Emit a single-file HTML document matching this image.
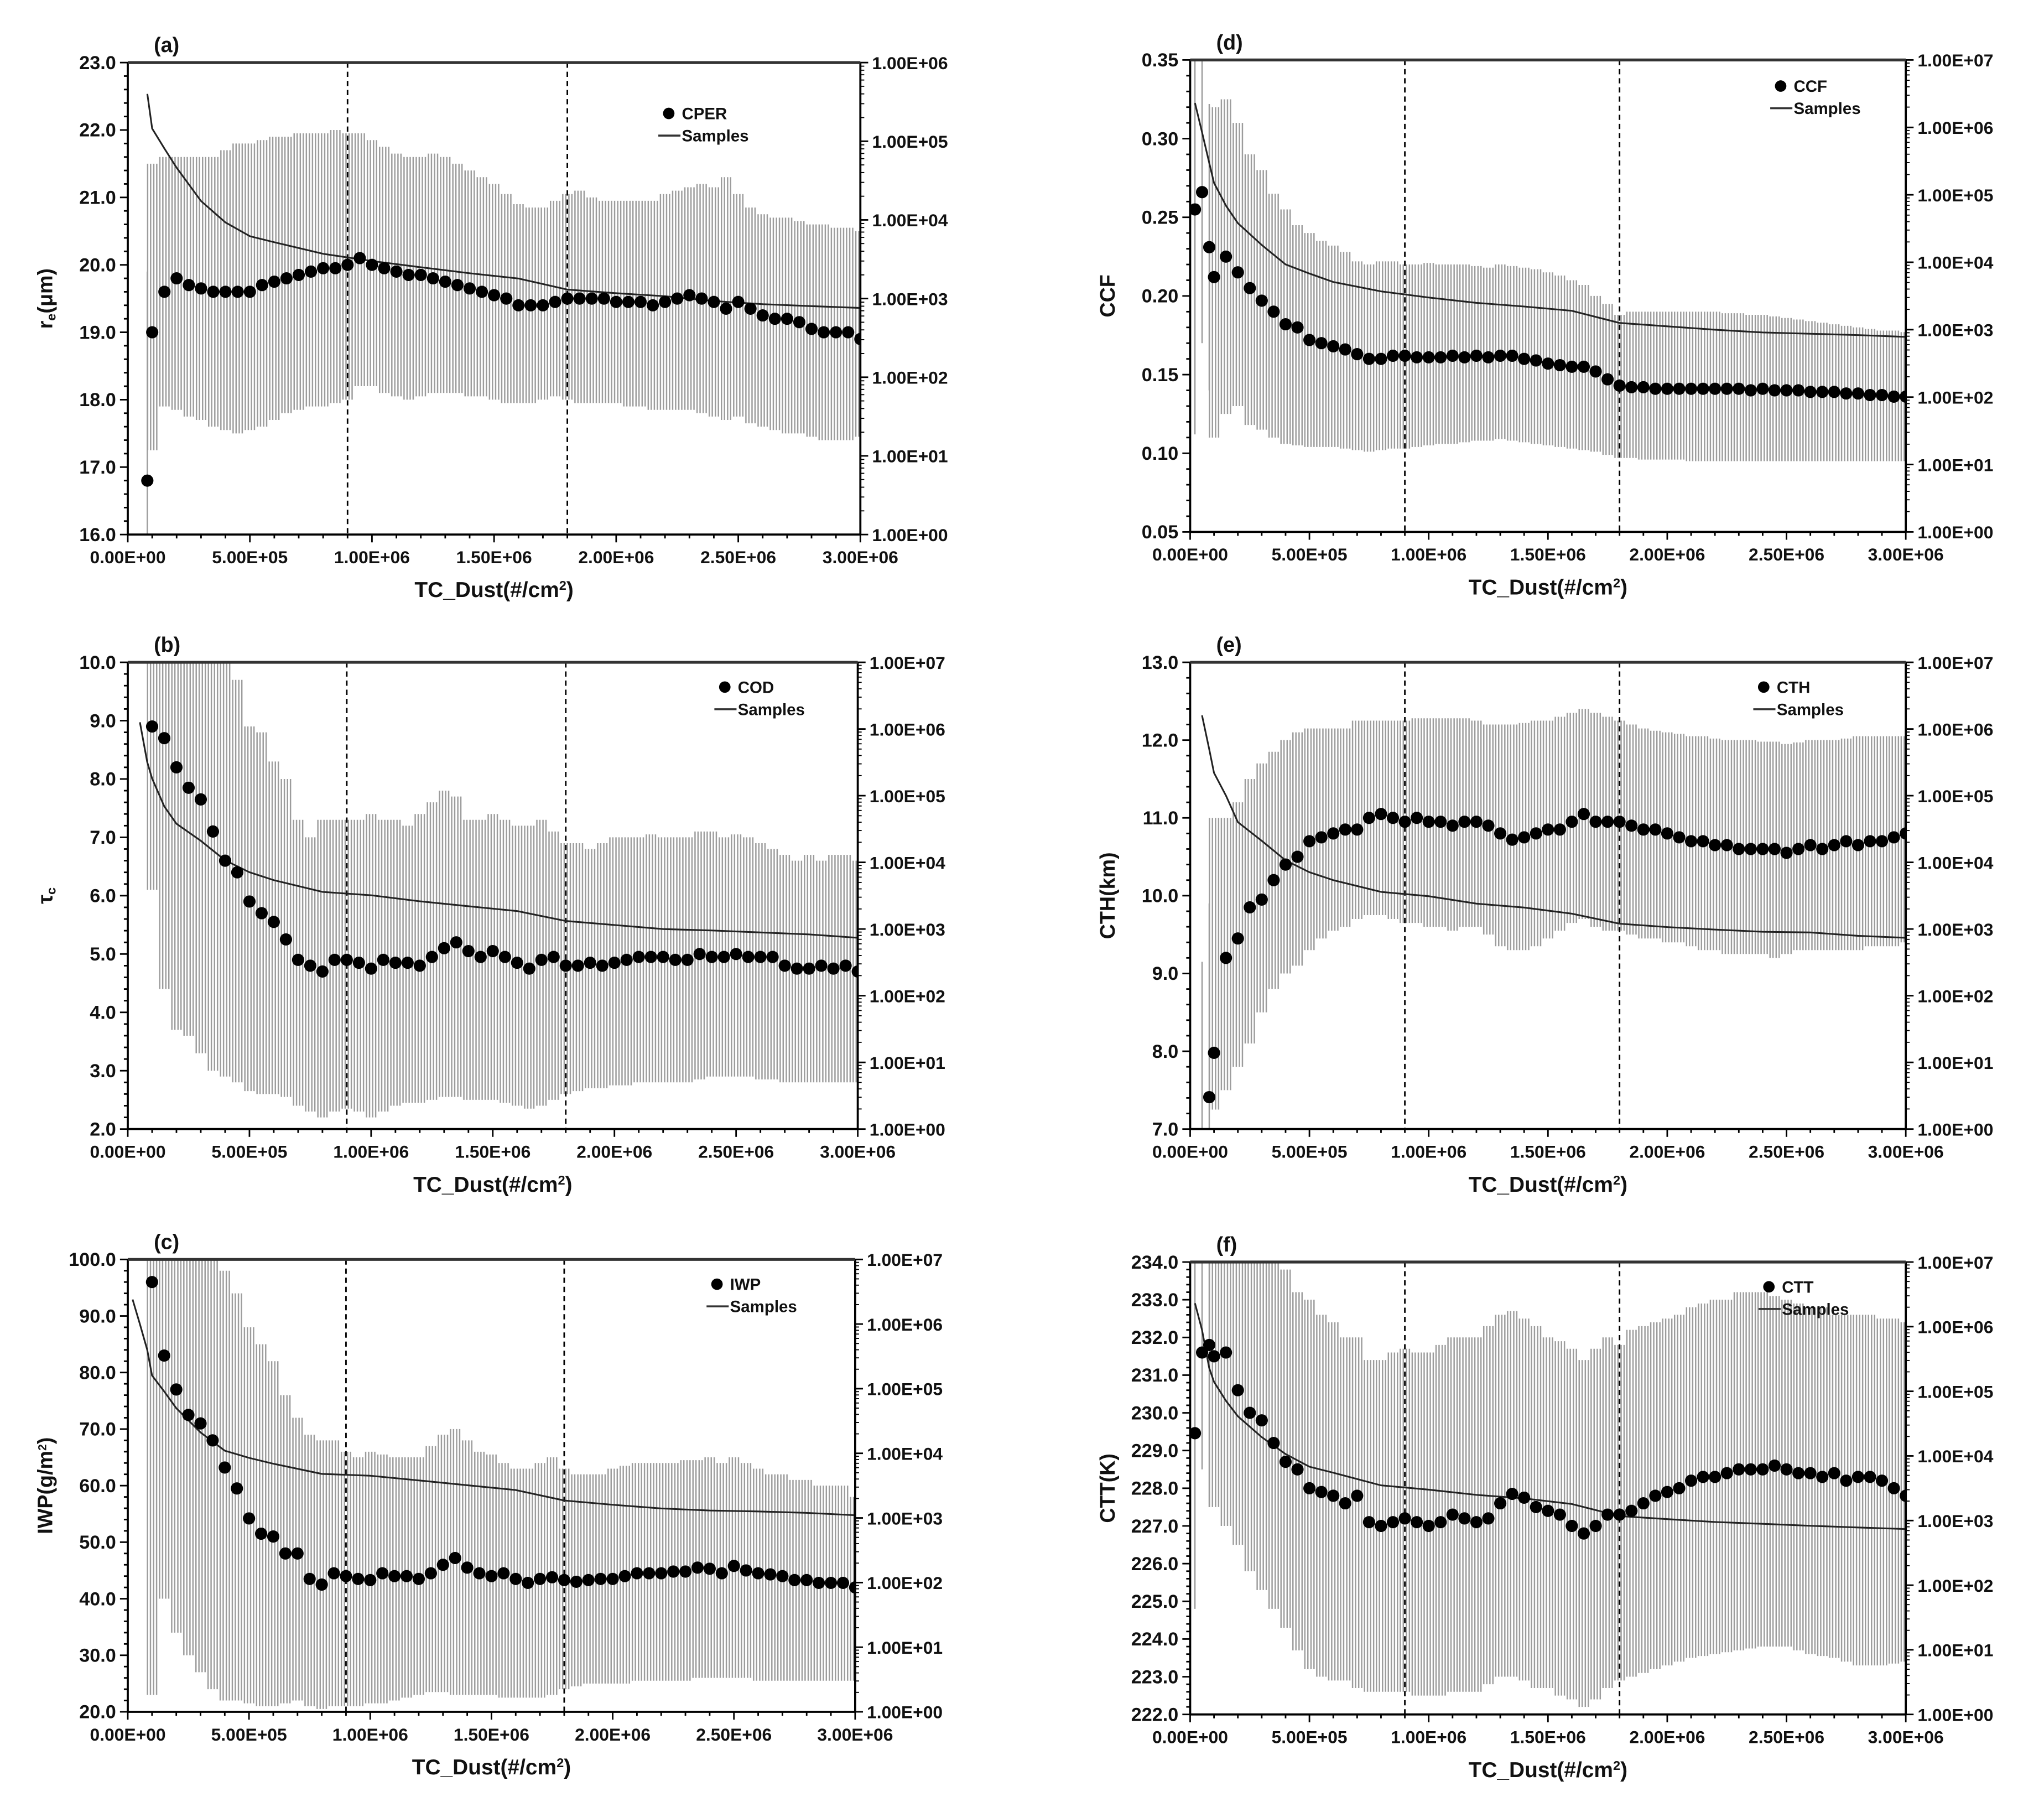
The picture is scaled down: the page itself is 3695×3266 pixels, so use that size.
<!DOCTYPE html>
<html><head><meta charset="utf-8"><title>TC_Dust cloud property panels</title>
<style>
html,body{margin:0;padding:0;background:#fff;}
svg{display:block;font-family:"Liberation Sans",Arial,sans-serif;}
</style></head>
<body>
<svg id="fig" xmlns="http://www.w3.org/2000/svg" width="3695" height="3266" viewBox="0 0 1568 1386">
<rect x="0" y="0" width="1568" height="1386" fill="#fff"/>
</svg>
<script>
// Shared x categories (TC_Dust, in units of 1e6 #/cm2)
const X = [0.02,0.05,0.08,
0.10,0.15,0.20,0.25,0.30,0.35,0.40,0.45,0.50,0.55,
0.60,0.65,0.70,0.75,0.80,0.85,0.90,0.95,1.00,1.05,
1.10,1.15,1.20,1.25,1.30,1.35,1.40,1.45,1.50,1.55,
1.60,1.65,1.70,1.75,1.80,1.85,1.90,1.95,2.00,2.05,
2.10,2.15,2.20,2.25,2.30,2.35,2.40,2.45,2.50,2.55,
2.60,2.65,2.70,2.75,2.80,2.85,2.90,2.95,3.00];
const SX = [0.02,0.05,0.08,0.1,0.15,0.2,0.3,0.4,0.5,0.6,0.8,1.0,1.2,1.4,1.6,1.8,2.0,2.2,2.4,2.6,2.8,3.0];
const xTickLabels = ["0.00E+00","5.00E+05","1.00E+06","1.50E+06","2.00E+06","2.50E+06","3.00E+06"];
const xTickValues = [0,0.5,1.0,1.5,2.0,2.5,3.0];
const dashedX = [0.9,1.8];

// (a) CPER
const cperMean = [null,null,16.8,
19.0,19.6,19.8,19.7,19.65,19.6,19.6,19.6,19.6,19.7,
19.75,19.8,19.85,19.9,19.95,19.95,20.0,20.1,20.0,19.95,
19.9,19.85,19.85,19.8,19.75,19.7,19.65,19.6,19.55,19.5,
19.4,19.4,19.4,19.45,19.5,19.5,19.5,19.5,19.45,19.45,
19.45,19.4,19.45,19.5,19.55,19.5,19.45,19.35,19.45,19.35,
19.25,19.2,19.2,19.15,19.05,19.0,19.0,19.0,18.9];
const cperHi = [null,null,19.9,
21.5,21.6,21.6,21.6,21.6,21.6,21.7,21.8,21.8,21.85,
21.9,21.9,21.95,21.95,21.95,22.0,21.95,21.95,21.85,21.75,
21.65,21.6,21.6,21.65,21.6,21.5,21.4,21.3,21.2,21.05,
20.9,20.85,20.85,20.95,21.05,21.1,21.0,20.95,20.95,20.95,
20.95,20.95,21.05,21.1,21.15,21.2,21.15,21.3,21.05,20.85,
20.75,20.7,20.7,20.65,20.6,20.6,20.55,20.55,20.5];
const cperLo = [null,null,16.0,
17.25,17.9,17.85,17.75,17.7,17.6,17.55,17.5,17.55,17.6,
17.7,17.8,17.85,17.9,17.9,17.95,18.0,18.2,18.2,18.1,
18.05,18.0,18.05,18.1,18.1,18.1,18.05,18.05,18.0,17.95,
17.95,17.95,18.0,18.05,18.0,17.95,17.95,17.95,17.95,17.9,
17.9,17.85,17.85,17.85,17.85,17.8,17.75,17.7,17.75,17.65,
17.6,17.55,17.5,17.5,17.45,17.4,17.4,17.4,17.45];
const cperSamples = [null,null,4e5,1.45e5,8.1e4,4.6e4,1.74e4,9.3e3,6.2e3,5.2e3,3.7e3,3e3,2.5e3,2.1e3,1.8e3,1.3e3,1.17e3,1.07e3,930,850,800,760];

// (b) COD
const codMean = [null,null,null,
8.9,8.7,8.2,7.85,7.65,7.1,6.6,6.4,5.9,5.7,
5.55,5.25,4.9,4.8,4.7,4.9,4.9,4.85,4.75,4.9,
4.85,4.85,4.8,4.95,5.1,5.2,5.05,4.95,5.05,4.95,
4.85,4.75,4.9,4.95,4.8,4.8,4.85,4.8,4.85,4.9,
4.95,4.95,4.95,4.9,4.9,5.0,4.95,4.95,5.0,4.95,
4.95,4.95,4.8,4.75,4.75,4.8,4.75,4.8,4.7];
const codHi = [null,null,null,
11,11,11,11,11,11,10,9.7,8.9,8.8,
8.3,8.0,7.3,7.0,7.3,7.3,7.3,7.3,7.4,7.3,
7.3,7.2,7.4,7.6,7.8,7.7,7.3,7.3,7.4,7.3,
7.2,7.2,7.3,7.1,6.9,6.9,6.8,6.9,7.0,7.0,
7.0,7.05,7.0,7.0,7.0,7.1,7.1,7.0,7.05,7.0,
6.9,6.8,6.7,6.6,6.7,6.6,6.7,6.7,6.6];
const codLo = [null,null,null,
6.1,4.4,3.7,3.6,3.3,3.0,2.9,2.8,2.65,2.6,
2.6,2.55,2.4,2.3,2.2,2.3,2.35,2.3,2.2,2.3,
2.4,2.45,2.45,2.5,2.55,2.55,2.5,2.5,2.5,2.45,
2.4,2.35,2.4,2.5,2.6,2.65,2.7,2.7,2.75,2.75,
2.8,2.8,2.8,2.8,2.8,2.85,2.9,2.9,2.9,2.9,
2.85,2.85,2.8,2.8,2.8,2.8,2.8,2.8,2.8];
const codSamples = [null,1.26e6,3.2e5,1.8e5,6.9e4,3.8e4,2.1e4,1.07e4,7.1e3,5.4e3,3.6e3,3.2e3,2.6e3,2.2e3,1.86e3,1.32e3,1.15e3,1e3,950,890,830,740];

// (c) IWP
const iwpMean = [null,null,null,
96,83,77,72.5,71,68,63.2,59.5,54.2,51.5,
51,48,48,43.5,42.5,44.5,44,43.5,43.3,44.5,
44,44,43.5,44.5,46,47.2,45.5,44.5,44,44.5,
43.5,42.8,43.5,43.8,43.3,43,43.3,43.5,43.5,44,
44.5,44.5,44.5,44.8,44.8,45.5,45.3,44.5,45.8,45,
44.5,44.3,44,43.3,43.3,42.8,42.8,42.8,42];
const iwpHi = [null,null,null,
105,105,105,105,105,100,98,94,88,85,
82,76,72,69,68,68,66,65,66,65.5,
65,65,65,67,69,70,68,66,65.5,64,
63,63,64,65,63,62,62,62,63,63.5,
64,64,64,64,64.5,64.5,65,64,65,64,
63,62,62,61,61,60,60,60,58];
const iwpLo = [null,null,null,
23,40,34,30,27,24,22,22,21.5,21,
21,21.5,22,21,20.5,21,21,21,21.5,21.5,
22,22.5,23,23.5,23.5,23,23,23,23,22.5,
22.5,22.5,22.5,23,24,24.5,25,25,25,25,
25.5,25.5,25.5,25.5,25.5,26,26,26,26,26,
25.5,25.5,25.5,25.5,25.5,25.5,25.5,25.5,25.5];
const iwpSamples = [2.4e6,1e6,4e5,1.6e5,9.1e4,5e4,2.1e4,1.1e4,8.5e3,6.9e3,4.8e3,4.5e3,3.8e3,3.2e3,2.7e3,1.86e3,1.6e3,1.4e3,1.3e3,1.26e3,1.2e3,1.1e3];

// (d) CCF
const ccfMean = [0.255,0.266,0.231,
0.212,0.225,0.215,0.205,0.197,0.19,0.182,0.18,0.172,0.17,
0.168,0.166,0.163,0.16,0.16,0.162,0.162,0.161,0.161,0.161,
0.162,0.161,0.162,0.161,0.162,0.162,0.16,0.159,0.157,0.156,
0.155,0.155,0.152,0.147,0.143,0.142,0.142,0.141,0.141,0.141,
0.141,0.141,0.141,0.141,0.141,0.14,0.141,0.14,0.14,0.14,
0.139,0.139,0.139,0.138,0.138,0.137,0.137,0.136,0.136];
const ccfHi = [0.36,0.36,0.322,
0.32,0.325,0.31,0.29,0.28,0.265,0.255,0.245,0.24,0.235,
0.232,0.228,0.222,0.22,0.222,0.222,0.22,0.22,0.221,0.22,
0.22,0.22,0.219,0.218,0.22,0.219,0.218,0.217,0.215,0.213,
0.21,0.207,0.2,0.195,0.188,0.19,0.19,0.19,0.19,0.19,
0.19,0.19,0.19,0.189,0.189,0.188,0.188,0.187,0.186,0.185,
0.184,0.183,0.182,0.181,0.18,0.179,0.178,0.178,0.177];
const ccfLo = [0.112,0.17,0.14,
0.11,0.125,0.13,0.118,0.115,0.11,0.106,0.105,0.104,0.104,
0.104,0.103,0.102,0.101,0.102,0.103,0.103,0.104,0.105,0.106,
0.106,0.107,0.108,0.108,0.109,0.108,0.107,0.106,0.105,0.104,
0.103,0.102,0.101,0.099,0.097,0.097,0.096,0.096,0.096,0.096,
0.095,0.095,0.095,0.095,0.095,0.095,0.095,0.095,0.095,0.095,
0.095,0.095,0.095,0.095,0.095,0.095,0.095,0.095,0.095];
const ccfSamples = [2.3e6,8.5e5,3e5,1.5e5,6.9e4,3.8e4,1.8e4,9.3e3,6.8e3,5.1e3,3.7e3,3e3,2.5e3,2.2e3,1.9e3,1.26e3,1.12e3,1e3,910,870,830,780];

// (e) CTH
const cthMean = [null,null,7.41,
7.98,9.2,9.45,9.85,9.95,10.2,10.4,10.5,10.7,10.75,
10.8,10.85,10.85,11.0,11.05,11.0,10.95,11.0,10.95,10.95,
10.9,10.95,10.95,10.9,10.8,10.72,10.75,10.8,10.85,10.85,
10.95,11.05,10.95,10.95,10.95,10.9,10.85,10.85,10.8,10.75,
10.7,10.7,10.65,10.65,10.6,10.6,10.6,10.6,10.55,10.6,
10.65,10.6,10.65,10.7,10.65,10.7,10.7,10.75,10.8];
const cthHi = [null,9.15,9.9,
11.0,11.0,11.2,11.5,11.7,11.85,12.0,12.1,12.15,12.15,
12.15,12.15,12.25,12.25,12.25,12.25,12.25,12.28,12.28,12.28,
12.28,12.28,12.25,12.2,12.2,12.2,12.22,12.25,12.25,12.3,
12.35,12.4,12.35,12.3,12.25,12.2,12.15,12.12,12.1,12.08,
12.05,12.05,12.02,12.0,12.0,12.0,11.98,11.98,11.95,11.97,
12.0,12.0,12.0,12.02,12.05,12.05,12.05,12.05,12.05];
const cthLo = [null,6.8,6.8,
7.25,7.5,7.8,8.1,8.5,8.8,9.0,9.1,9.3,9.45,
9.55,9.6,9.7,9.75,9.75,9.7,9.65,9.65,9.6,9.6,
9.55,9.6,9.6,9.5,9.35,9.3,9.3,9.35,9.45,9.55,
9.65,9.7,9.6,9.55,9.55,9.5,9.45,9.45,9.4,9.4,
9.35,9.3,9.3,9.25,9.25,9.25,9.25,9.2,9.25,9.3,
9.3,9.3,9.3,9.3,9.3,9.35,9.35,9.35,9.4];
const cthSamples = [null,1.6e6,5e5,2.2e5,1e5,4e4,2.1e4,1.07e4,7.1e3,5.4e3,3.6e3,3.1e3,2.4e3,2.1e3,1.7e3,1.2e3,1.07e3,980,910,890,790,740];

// (f) CTT
const cttMean = [229.46,231.6,231.8,
231.5,231.6,230.6,230.0,229.8,229.2,228.7,228.5,228.0,227.9,
227.8,227.6,227.8,227.1,227.0,227.1,227.2,227.1,227.0,227.1,
227.3,227.2,227.1,227.2,227.6,227.85,227.75,227.5,227.4,227.3,
227.0,226.8,227.0,227.3,227.3,227.4,227.6,227.8,227.9,228.0,
228.2,228.3,228.3,228.4,228.5,228.5,228.5,228.6,228.5,228.4,
228.4,228.3,228.4,228.2,228.3,228.3,228.2,228.0,227.8];
const cttHi = [234.5,234.5,234.5,
234.5,234.5,234.5,234.5,234.5,234.5,233.8,233.2,233.0,232.6,
232.4,232.0,232.0,231.4,231.4,231.6,231.7,231.6,231.6,231.8,
232.0,232.0,232.0,232.3,232.6,232.7,232.5,232.3,232.0,231.9,
231.7,231.4,231.7,232.0,231.8,232.2,232.3,232.4,232.5,232.6,
232.8,232.9,233.0,233.0,233.2,233.2,233.2,233.1,233.0,232.9,
232.8,232.8,232.6,232.6,232.6,232.6,232.5,232.5,232.4];
const cttLo = [224.8,228.5,227.5,
227.5,227.0,226.5,225.8,225.3,224.8,224.3,223.7,223.2,223.0,
222.9,222.9,222.7,222.6,222.6,222.6,222.6,222.5,222.5,222.5,
222.6,222.6,222.6,222.8,223.0,223.0,222.9,222.7,222.7,222.5,
222.4,222.2,222.4,222.7,222.9,223.0,223.1,223.2,223.3,223.4,
223.5,223.55,223.6,223.65,223.7,223.75,223.8,223.8,223.8,223.7,
223.6,223.55,223.5,223.4,223.3,223.3,223.3,223.35,223.4];
const cttSamples = [2.3e6,8.9e5,2.3e5,1.4e5,7.1e4,4.1e4,1.95e4,1.07e4,6.8e3,5.5e3,3.5e3,3e3,2.5e3,2.2e3,1.8e3,1.17e3,1.05e3,950,890,830,780,740];

const panels = [
 {id:"a", letter:"(a)", L:98, R:660, T:48, B:410, ymin:16, ymax:23, ystep:1, ydec:1, rmax:6,
  mean:cperMean, hi:cperHi, lo:cperLo, samples:cperSamples, name:"CPER", ytitle:"r<tspan baseline-shift='-25%' font-size='10'>e</tspan>(μm)",
  legX:513, legY:87},
 {id:"b", letter:"(b)", L:98, R:658, T:508, B:866, ymin:2, ymax:10, ystep:1, ydec:1, rmax:7,
  mean:codMean, hi:codHi, lo:codLo, samples:codSamples, name:"COD", ytitle:"τ<tspan baseline-shift='-25%' font-size='10'>c</tspan>",
  legX:556, legY:527},
 {id:"c", letter:"(c)", L:98, R:656, T:966, B:1313, ymin:20, ymax:100, ystep:10, ydec:1, rmax:7,
  mean:iwpMean, hi:iwpHi, lo:iwpLo, samples:iwpSamples, name:"IWP", ytitle:"IWP(g/m<tspan baseline-shift='super' font-size='9'>2</tspan>)",
  legX:550, legY:985},
 {id:"d", letter:"(d)", L:913, R:1462, T:46, B:408, ymin:0.05, ymax:0.35, ystep:0.05, ydec:2, rmax:7,
  mean:ccfMean, hi:ccfHi, lo:ccfLo, samples:ccfSamples, name:"CCF", ytitle:"CCF",
  legX:1366, legY:66},
 {id:"e", letter:"(e)", L:913, R:1462, T:508, B:866, ymin:7, ymax:13, ystep:1, ydec:1, rmax:7,
  mean:cthMean, hi:cthHi, lo:cthLo, samples:cthSamples, name:"CTH", ytitle:"CTH(km)",
  legX:1353, legY:527},
 {id:"f", letter:"(f)", L:913, R:1462, T:968, B:1315, ymin:222, ymax:234, ystep:1, ydec:1, rmax:7,
  mean:cttMean, hi:cttHi, lo:cttLo, samples:cttSamples, name:"CTT", ytitle:"CTT(K)",
  legX:1357, legY:987}
];

const NS = "http://www.w3.org/2000/svg";
const svg = document.getElementById("fig");
function mk(tag, attrs, parent){
  const e = document.createElementNS(NS, tag);
  for (const k in attrs) e.setAttribute(k, attrs[k]);
  (parent || svg).appendChild(e);
  return e;
}
const barOffsets = [-3.5, -1.2, 1.2, 3.5];

panels.forEach(function(p){
  const g = mk("g", {});
  
  
  const xs = v => p.L + (v / 3.0) * (p.R - p.L);
  const ys = v => p.B - (v - p.ymin) / (p.ymax - p.ymin) * (p.B - p.T);
  const yr = c => p.B - Math.log10(c) / p.rmax * (p.B - p.T);

  const clip = mk("clipPath", {id:"clip-" + p.id}, g);
  mk("rect", {x:p.L, y:p.T, width:p.R - p.L, height:p.B - p.T}, clip);

  // error bars
  const eg = mk("g", {"clip-path":"url(#clip-" + p.id + ")", stroke:"#9c9c9c", "stroke-width":1.05}, g);
  
  
  for (let i = 0; i < X.length; i++){
    const h = p.hi[i], l = p.lo[i];
    if (h == null || l == null) continue;
    const bar = mk("g", {}, eg);
    
    
    const early = i < 3;
    const offs = early ? [0] : barOffsets;
    offs.forEach(function(o){
      mk("line", {x1:xs(X[i]) + o, x2:xs(X[i]) + o, y1:ys(l), y2:ys(h)}, bar);
    });
  }

  // dashed reference lines
  dashedX.forEach(function(dx){
    const dl = mk("line", {x1:xs(dx), x2:xs(dx), y1:p.T, y2:p.B, stroke:"#000", "stroke-width":1.2, "stroke-dasharray":"4 3"}, g);
    
    
  });

  // samples line
  let pts = [];
  for (let i = 0; i < SX.length; i++){
    if (p.samples[i] == null) continue;
    pts.push(xs(SX[i]).toFixed(1) + "," + yr(p.samples[i]).toFixed(1));
  }
  const sl = mk("polyline", {points:pts.join(" "), fill:"none", stroke:"#222", "stroke-width":1.3, "clip-path":"url(#clip-" + p.id + ")"}, g);
  
  

  // dots
  const dg = mk("g", {"clip-path":"url(#clip-" + p.id + ")"}, g);
  
  
  for (let i = 0; i < X.length; i++){
    if (p.mean[i] == null) continue;
    const c = mk("circle", {cx:xs(X[i]), cy:ys(p.mean[i]), r:4.7, fill:"#000"}, dg);
    
    
  }

  // frame
  const fr = mk("g", {stroke:"#000", "stroke-width":1.6, fill:"none"}, g);
  
  
  mk("line", {x1:p.L, x2:p.L, y1:p.T, y2:p.B}, fr);
  mk("line", {x1:p.L, x2:p.R, y1:p.B, y2:p.B}, fr);
  mk("line", {x1:p.R, x2:p.R, y1:p.T, y2:p.B}, fr);
  mk("line", {x1:p.L, x2:p.R, y1:p.T, y2:p.T, "stroke-width":2.2, stroke:"#333"}, fr);

  // left axis ticks & labels
  const nMaj = Math.round((p.ymax - p.ymin) / p.ystep);
  const tk = mk("g", {stroke:"#000", "stroke-width":1.2}, g);
  for (let k = 0; k <= nMaj * 5; k++){
    const v = p.ymin + k * p.ystep / 5;
    const len = (k % 5 === 0) ? 6 : 3;
    mk("line", {x1:p.L - len, x2:p.L, y1:ys(v), y2:ys(v)}, tk);
  }
  for (let k = 0; k <= nMaj; k++){
    const v = p.ymin + k * p.ystep;
    const t = mk("text", {x:p.L - 9, y:ys(v) + 5, "text-anchor":"end", "font-size":14.5, "font-weight":"bold", fill:"#111"}, g);
    t.textContent = v.toFixed(p.ydec);
    
    
  }
  // bottom axis ticks
  for (let k = 0; k <= 30; k++){
    const v = k * 0.1;
    const len = (k % 5 === 0) ? 6 : 3;
    mk("line", {x1:xs(v), x2:xs(v), y1:p.B, y2:p.B + len}, tk);
  }
  xTickValues.forEach(function(v, i){
    const t = mk("text", {x:xs(v), y:p.B + 22, "text-anchor":"middle", "font-size":13.5, "font-weight":"bold", fill:"#111"}, g);
    t.textContent = xTickLabels[i];
    
    
  });
  // right log axis
  for (let d = 0; d <= p.rmax; d++){
    mk("line", {x1:p.R, x2:p.R + 6, y1:yr(Math.pow(10, d)), y2:yr(Math.pow(10, d))}, tk);
    if (d < p.rmax){
      for (let m = 2; m <= 9; m++){
        const yy = yr(m * Math.pow(10, d));
        mk("line", {x1:p.R, x2:p.R + 3, y1:yy, y2:yy, "stroke-width":0.8}, tk);
      }
    }
    const t = mk("text", {x:p.R + 9, y:yr(Math.pow(10, d)) + 5, "font-size":13.5, "font-weight":"bold", fill:"#111"}, g);
    t.textContent = "1.00E+0" + d;
    
    
  }

  // titles
  const xt = mk("text", {x:(p.L + p.R) / 2, y:p.B + 48, "text-anchor":"middle", "font-size":16.5, "font-weight":"bold", fill:"#111"}, g);
  xt.innerHTML = "TC_Dust(#/cm<tspan baseline-shift='super' font-size='10'>2</tspan>)";
  
  
  const cy = (p.T + p.B) / 2;
  const tx = p.L - 58;
  const yt = mk("text", {x:tx, y:cy, "text-anchor":"middle", "font-size":16, "font-weight":"bold", fill:"#111", transform:"rotate(-90 " + tx + " " + cy + ")"}, g);
  yt.innerHTML = p.ytitle;
  
  
  const lt = mk("text", {x:p.L + 20, y:p.T - 8, "font-size":16, "font-weight":"bold", fill:"#111"}, g);
  lt.textContent = p.letter;
  
  

  // legend
  const lg = mk("g", {}, g);
  
  
  mk("circle", {cx:p.legX, cy:p.legY, r:4.4, fill:"#000"}, lg);
  const l1 = mk("text", {x:p.legX + 10, y:p.legY + 4.5, "font-size":12.5, "font-weight":"bold", fill:"#111"}, lg);
  l1.textContent = p.name;
  
  
  mk("line", {x1:p.legX - 8, x2:p.legX + 9, y1:p.legY + 17, y2:p.legY + 17, stroke:"#333", "stroke-width":1.5}, lg);
  const l2 = mk("text", {x:p.legX + 10, y:p.legY + 21.5, "font-size":12.5, "font-weight":"bold", fill:"#111"}, lg);
  l2.textContent = "Samples";
  
  
});
</script>
</body></html>
